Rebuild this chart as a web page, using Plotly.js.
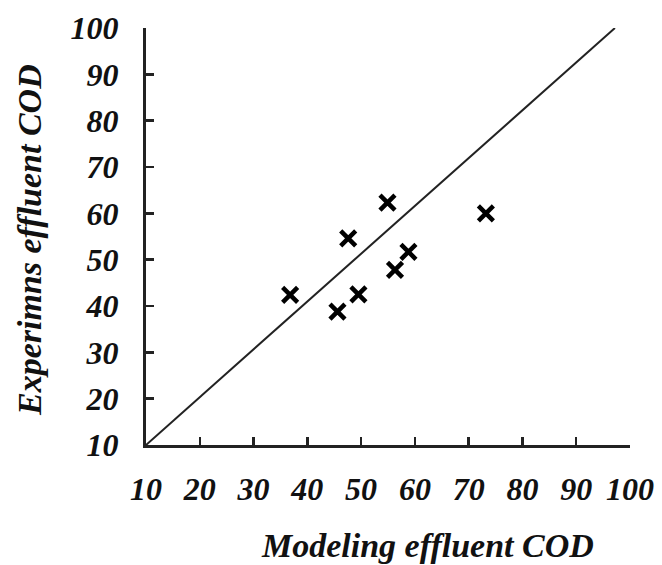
<!DOCTYPE html>
<html>
<head>
<meta charset="utf-8">
<script src="https://cdn.plot.ly/plotly-3.0.1.min.js"></script>
<style>html,body{margin:0;padding:0;background:#fff;}#chart{width:662px;height:565px;}</style>
</head>
<body>
<div id="chart"></div>
<script>
// Data
var modeled = [36.8, 45.6, 49.5, 47.6, 54.9, 56.3, 58.8, 73.2];
var experiment = [42.4, 38.8, 42.5, 54.6, 62.3, 47.8, 51.7, 60.0];
var refLineX = [10, 97.2];
var refLineY = [10, 100];
var tickValues = [10, 20, 30, 40, 50, 60, 70, 80, 90, 100];
var tickLabels = ['10', '20', '30', '40', '50', '60', '70', '80', '90', '100'];
var xTitle = 'Modeling effluent COD';
var yTitle = 'Experimns effluent COD';

var fontFam = '"Liberation Serif", "Times New Roman", serif';
var tickFont = {family: fontFam, size: 32, color: '#111', weight: 'bold', style: 'italic'};
var titleFont = {family: fontFam, size: 34, color: '#111', weight: 'bold', style: 'italic'};

var traces = [
  {
    x: refLineX, y: refLineY, mode: 'lines', type: 'scatter',
    line: {color: '#222', width: 2}, hoverinfo: 'skip', showlegend: false
  },
  {
    x: modeled, y: experiment, mode: 'markers', type: 'scatter',
    marker: {symbol: 'x-thin', size: 15, color: '#000', line: {color: '#000', width: 4.5}},
    showlegend: false
  }
];

var axisCommon = {
  tickmode: 'array', tickvals: tickValues, ticktext: tickLabels,
  ticks: 'inside', ticklen: 8, tickwidth: 2.5, tickcolor: '#222',
  showline: true, linecolor: '#222', linewidth: 3,
  showgrid: false, zeroline: false, tickfont: tickFont,
  fixedrange: true
};

var layout = {
  width: 662, height: 565,
  margin: {l: 146, r: 32, t: 28, b: 120},
  paper_bgcolor: '#fff', plot_bgcolor: '#fff',
  xaxis: Object.assign({}, axisCommon, {range: [10, 100], ticklabelstandoff: 14}),
  yaxis: Object.assign({}, axisCommon, {range: [10, 100], ticklabelstandoff: 18}),
  annotations: [
    {text: xTitle, xref: 'paper', yref: 'paper', x: 0.5806, y: -0.24,
     xanchor: 'center', yanchor: 'middle', showarrow: false, font: titleFont},
    {text: yTitle, xref: 'paper', yref: 'paper', x: -0.2417, y: 0.4916, textangle: -90,
     xanchor: 'center', yanchor: 'middle', showarrow: false, font: titleFont}
  ]
};

Plotly.newPlot('chart', traces, layout, {displayModeBar: false, staticPlot: true});
</script>
</body>
</html>
